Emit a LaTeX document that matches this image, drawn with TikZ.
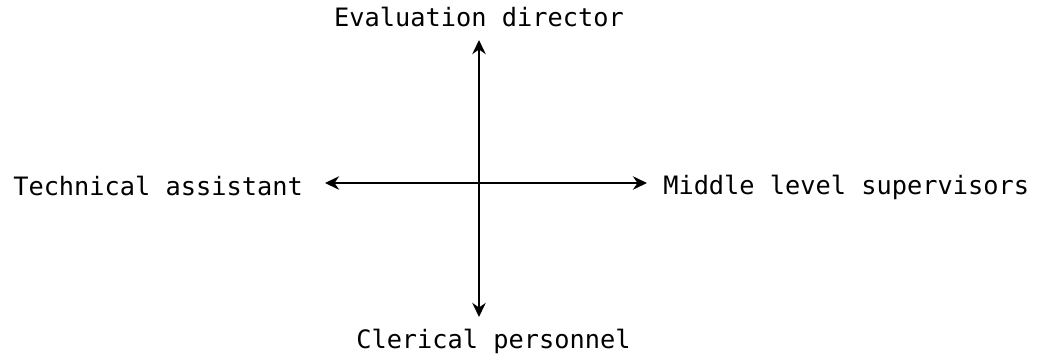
\documentclass[tikz,border=0pt]{standalone}
\usepackage{fontspec}
\setmonofont{DejaVu Sans Mono}
\usetikzlibrary{arrows.meta,positioning}

\begin{document}
\begin{tikzpicture}[x=0.025cm,y=-0.025cm,
  every node/.style={font=\ttfamily\fontsize{18}{21}\selectfont,inner sep=0pt},
  axis/.style={line width=1.6pt,-{Stealth[length=10pt,width=9.5pt]}}]
\useasboundingbox (0,0) rectangle (1041,362);
% roles
\node[anchor=base] (ed) at (479,26) {Evaluation director};
\node[anchor=base west] (cp) at (356,348) {Clerical personnel};
\node[anchor=base west] (ta) at (13,195) {Technical assistant};
\node[anchor=base west] (ms) at (663,194) {Middle level supervisors};
% arrow ends
\coordinate (ctr) at (479,183);
\coordinate (up) at (479,40);
\coordinate (dn) at (479,317);
\coordinate (lt) at (325,183);
\coordinate (rt) at (647,183);
\draw[axis] (ctr) -- (up);
\draw[axis] (ctr) -- (dn);
\draw[axis] (ctr) -- (lt);
\draw[axis] (ctr) -- (rt);
\end{tikzpicture}
\end{document}
